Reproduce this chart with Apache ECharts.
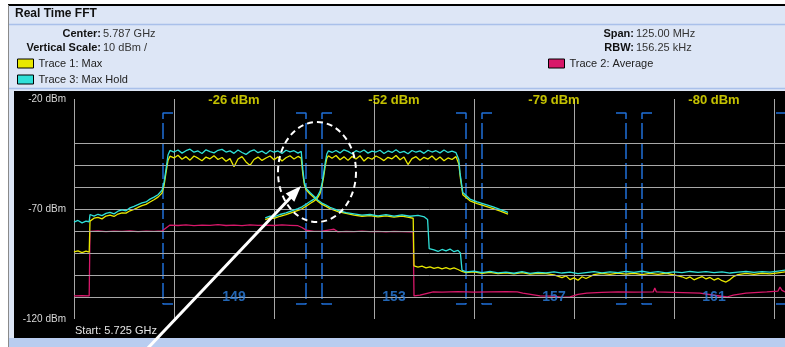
<!DOCTYPE html>
<html>
<head>
<meta charset="utf-8">
<script src="https://cdn.jsdelivr.net/npm/echarts@6/dist/echarts.min.js"></script>
<style>
  html, body { margin: 0; padding: 0; background: #fff; }
  #chart { width: 785px; height: 347px; }
</style>
</head>
<body>
<div id="chart"></div>
<script>
// x = MHz above start frequency (5.725 GHz), y = dBm
const spanVisible = 88.875; // only part of the 125 MHz span is on screen
const gridLevels = [-40, -50, -60, -70, -80, -90, -100, -110];

const channels = ["149", "153", "157", "161"];
const channelCenters = [20, 40, 60, 80];
const channelPower = [-26, -52, -79, -80];
const channelEdges = [[11.125, 29], [31, 49], [51, 69], [71, 89]];

// Trace 3: Max Hold (cyan)
const maxHoldA = [
  [0, -76], [0.5, -75.2], [1, -76.3], [1.5, -75.5], [1.9, -75.8], [2, -72.5], [2.5, -73.2], [3, -72.4],
  [3.5, -73], [4, -72], [4.5, -71.5], [5, -72.2], [5.5, -71], [6, -70.4], [6.5, -70.8], [7, -69.5],
  [7.5, -68.8], [8, -68], [8.5, -67.2], [9, -66.8], [9.5, -65.5], [10, -64.6], [10.5, -63.5], [11, -61.5],
  [11.25, -58], [11.5, -52], [11.75, -45.5], [12, -43.4],
  [12.5, -44.1], [13, -43.2], [13.5, -44.6], [14, -43.5], [14.5, -42.8], [15, -44.2], [15.5, -43.6],
  [16, -44.8], [16.5, -43.1], [17, -43.9], [17.5, -44.5], [18, -43.3], [18.5, -42.9], [19, -44.1],
  [19.5, -43.6], [20, -44.7], [20.5, -43.2], [21, -44.3], [21.5, -45.2], [22, -43.8], [22.5, -43.1],
  [23, -44.4], [23.5, -43.7], [24, -44.9], [24.5, -43.4], [25, -44.2], [25.5, -43.6], [26, -44.8],
  [26.5, -43.3], [27, -44], [27.5, -43.5], [28, -44.6], [28.4, -43.8],
  [28.6, -52], [28.8, -58], [29, -60.5], [29.5, -62.5], [30, -64.2], [30.5, -66], [31, -67.3],
  [31.5, -68.2], [32, -69.2], [33, -70.6], [34, -71.6], [35, -72.2], [36, -72.8], [37, -72.5],
  [38, -73.1], [39, -72.6], [40, -73.2], [41, -72.7], [42, -73.3], [43, -72.9], [43.8, -73.6],
  [44.2, -74.8], [44.4, -88], [45, -88.6], [45.5, -89.3], [46, -88.4], [46.5, -89], [47, -88.2],
  [47.5, -89.4], [48, -88.8], [48.3, -90], [48.5, -97.8],
  [49, -98.6], [50, -98.2], [51, -98.9], [52, -98.4], [53, -99], [54, -98.7], [55, -99.2], [56, -98.5],
  [57, -99.3], [58, -98.8], [59, -99], [60, -98.6], [61, -99.1], [62, -98.7], [63, -99.4], [64, -98.9],
  [65, -98.5], [66, -99], [67, -98.6], [68, -98.9], [69, -98.4], [70, -98.8], [71, -98.3], [72, -98.9],
  [73, -98.5], [74, -99], [75, -98.6], [76, -98.9], [77, -98.4], [78, -98.8], [79, -98.5], [80, -98.9],
  [81, -98.6], [82, -99.1], [83, -98.7], [84, -98.4], [85, -98.8], [86, -98.5], [87, -98.7], [88, -98.2],
  [88.875, -97.8]
];
const maxHoldB = [
  [23.9, -74], [24.5, -73.2], [25, -73.6], [25.75, -72.5], [26.5, -71.8], [27.4, -70.6], [28, -69.8],
  [28.5, -69], [29.1, -67.6], [29.6, -66.4], [30, -65.5], [30.4, -64.3], [30.75, -62], [31, -58.5],
  [31.2, -54], [31.4, -49], [31.6, -45], [31.8, -43.6],
  [32.25, -44.3], [32.75, -43.4], [33.25, -44.5], [33.75, -43.1], [34.25, -43.8], [34.75, -44.9],
  [35.25, -43.5], [35.75, -44.2], [36.25, -43.2], [36.75, -44.6], [37.25, -43.7], [37.75, -44.1],
  [38.25, -43.3], [38.75, -44.8], [39.25, -43.6], [39.75, -44.3], [40.25, -43.1], [40.75, -44.4],
  [41.25, -43.8], [41.75, -44.9], [42.25, -43.4], [42.75, -44.2], [43.25, -43.6], [43.75, -44.7],
  [44.25, -43.3], [44.75, -44.1], [45.25, -43.5], [45.75, -44.5], [46.25, -43.2], [46.75, -44.3],
  [47.25, -43.7], [47.75, -44.4],
  [48.1, -47.5], [48.25, -53.6], [48.6, -62.5], [49.5, -65.5], [50.4, -66.8], [51.5, -68],
  [52.4, -69], [53.3, -70.3], [54.25, -71.5]
];

// Trace 1: Max (yellow)
const maxA = [
  [0, -89.5], [0.5, -89], [1, -89.8], [1.5, -89.2], [1.9, -89.6], [2, -75.5], [2.5, -74.2], [3, -73.8],
  [3.5, -74.5], [4, -73.2], [4.5, -72.8], [5, -73.4], [5.5, -72.3], [6, -71.8], [6.5, -71.9], [7, -70.8],
  [7.5, -70.2], [8, -69.3], [8.5, -68.5], [9, -67.9], [9.5, -66.8], [10, -65.8], [10.5, -64.6], [11, -62.8],
  [11.25, -59.5], [11.5, -53.5], [11.75, -48], [12, -46],
  [12.5, -46.8], [13, -45.6], [13.5, -47.4], [14, -46.2], [14.5, -47.8], [15, -45.9], [15.5, -46.9],
  [16, -48.1], [16.5, -46.4], [17, -47.2], [17.5, -45.8], [18, -47.5], [18.5, -46.6], [19, -48.3],
  [19.5, -47.1], [20, -50.8], [20.5, -47.3], [21, -46.2], [21.5, -48.6], [22, -50.2], [22.5, -47.5],
  [23, -46.4], [23.5, -47.9], [24, -46.8], [24.5, -45.9], [25, -47.6], [25.5, -46.3], [26, -48.2],
  [26.5, -46.7], [27, -45.8], [27.5, -47.3], [28, -46.1], [28.4, -46.9],
  [28.6, -54], [28.8, -59], [29, -61.2], [29.5, -63.2], [30, -64.8], [30.5, -66.6], [31, -67.9],
  [31.5, -68.8], [32, -69.8], [33, -71.2], [34, -72], [35, -72.8], [36, -73.3], [37, -73], [38, -73.6],
  [39, -73.1], [40, -73.7], [41, -73.2], [42, -73.9], [42.4, -74.2], [42.5, -95.8], [43, -96.4],
  [43.5, -96], [44, -96.8], [44.5, -96.3], [45, -97], [45.5, -96.5], [46, -97.2], [46.5, -96.7],
  [47, -97.3], [47.5, -96.8], [48, -97.5], [48.5, -98.4], [49, -98.9],
  [50, -98.6], [51, -99.2], [52, -98.8], [53, -99.4], [54, -99], [55, -99.5], [56, -98.9], [57, -99.6],
  [58, -99.2], [59, -99.4], [60, -99.9], [61, -101.2], [61.5, -100.4], [62, -102.1], [62.5, -101.3],
  [63, -102.4], [63.5, -100.8], [64, -101.6], [65, -99.8], [66, -99.3], [67, -99.7], [68, -99.1],
  [69, -99.6], [70, -99.2], [71, -99.8], [72, -99.3], [73, -99.7], [74, -99.2], [75, -99.9],
  [76, -100.8], [76.5, -101.6], [77, -100.9], [77.5, -102.2], [78, -101.4], [78.5, -100.7],
  [79, -101.8], [79.5, -101.1], [80, -102.3], [80.5, -101.5], [81, -102.6], [81.5, -103.2],
  [82, -102.1], [82.5, -100.6], [83, -99.8], [84, -99.3], [85, -99.7], [86, -99.2], [87, -99.5],
  [88, -99], [88.875, -98.6]
];
const maxB = [
  [23.9, -74.8], [24.5, -74], [25, -74.3], [25.75, -73.3], [26.5, -72.6], [27.4, -71.4], [28, -70.6],
  [28.5, -69.9], [29.1, -68.5], [29.6, -67.3], [30, -66.4], [30.4, -65.2], [30.75, -63], [31, -59.5],
  [31.2, -55.5], [31.4, -50.5], [31.6, -47], [31.8, -45.8],
  [32.25, -46.9], [32.75, -45.7], [33.25, -47.6], [33.75, -46.3], [34.25, -47.9], [34.75, -46.1],
  [35.25, -47.3], [35.75, -45.8], [36.25, -48.2], [36.75, -46.6], [37.25, -47.4], [37.75, -45.9],
  [38.25, -46.8], [38.75, -48], [39.25, -46.5], [39.75, -47.2], [40.25, -45.7], [40.75, -47.6],
  [41.25, -46.4], [41.75, -49.8], [42.25, -47.1], [42.75, -46.2], [43.25, -47.8], [43.75, -46.5],
  [44.25, -47.3], [44.75, -45.9], [45.25, -47.7], [45.75, -46.4], [46.25, -48.1], [46.75, -46.8],
  [47.25, -47.5], [47.75, -46.2],
  [48.1, -49.5], [48.3, -56], [48.6, -63.5], [49.5, -66.3], [50.4, -67.6], [51.5, -68.8],
  [52.4, -69.8], [53.3, -71], [54.25, -72.3]
];

// Trace 2: Average (magenta)
const average = [
  [0, -109.5], [1, -109.4], [1.9, -109.5], [2, -80.2], [3, -80], [4, -80.3], [5, -80.1], [6, -80.2],
  [7, -80], [8, -80.3], [9, -80.1], [10, -80.2], [11, -80], [11.5, -78.6], [12, -77.3], [13, -77.5],
  [14, -77.2], [15, -77.6], [16, -77.3], [17, -77.4], [18, -77.1], [19, -77.5], [20, -77.3], [21, -77.6],
  [22, -77.2], [23, -77.4], [24, -77.3], [25, -77.5], [26, -77.2], [27, -77.4], [28, -77.6], [28.5, -78.4],
  [29, -79.6], [30, -80.2], [31, -80.1], [32, -79.5], [32.5, -79.2], [33, -80.4], [34, -80.2], [35, -80.3],
  [36, -80.1], [37, -80.3], [38, -80.2], [39, -80.4], [40, -80.2], [41, -80.3], [42, -80.4], [42.4, -80.3],
  [42.5, -109.5], [43.25, -109.1], [44.9, -107.7], [46, -107.8], [48, -107.6], [50, -107.8], [52, -107.7],
  [54, -107.6], [55.4, -107.7], [56.1, -108.2], [58.25, -109.5], [60, -109.6], [61, -110.2], [62, -109.9],
  [63, -108.8], [64.1, -108.2], [66, -107.9], [68, -107.7], [70, -107.8], [72.4, -107.7], [72.6, -105.9],
  [72.8, -107.7], [75, -107.9], [78.25, -108.2], [80, -109.2], [81.6, -110], [82.4, -109.1], [84, -108.2],
  [86.6, -107.7], [88, -107.3], [88.25, -105.5], [88.5, -107], [88.875, -107.7]
];

const FONT = '"Liberation Sans", Arial, sans-serif';
const bracketTop = -26.4;
const bracketBottom = -113.2;
const bracketFoot = 1.25;

const chart = echarts.init(document.getElementById("chart"));

// channel edge brackets, one polyline per edge
const bracketSeries = [];
channelEdges.forEach(([lo, hi]) => {
  [[lo, bracketFoot], [hi, -bracketFoot]].forEach(([x, d]) => {
    bracketSeries.push({
      type: "line",
      silent: true,
      symbol: "none",
      z: 1,
      lineStyle: { color: "#1f6fd8", width: 1.5, type: [16, 4] },
      data: [[x + d, bracketTop], [x, bracketTop], [x, bracketBottom], [x + d, bracketBottom]],
    });
  });
});

const traceLine = (name, color, data, z) => ({
  name,
  type: "line",
  data,
  symbol: "none",
  z,
  color,
  itemStyle: { color },
  lineStyle: { color, width: 1.3 },
});

const legendBase = {
  padding: 0,
  icon: "rect",
  itemWidth: 16,
  itemHeight: 9,
  itemStyle: { borderColor: "#000", borderWidth: 1 },
  textStyle: { color: "#222", fontSize: 11, fontFamily: FONT },
};

const option = {
  backgroundColor: "#ffffff",
  animation: false,
  grid: { left: 74, right: 0, top: 99, bottom: 28 },
  xAxis: {
    type: "value",
    min: 0,
    max: spanVisible,
    interval: 12.5,
    axisLine: { show: false },
    axisTick: { show: false },
    axisLabel: { show: false },
    splitLine: { show: true, lineStyle: { color: "#a8a8a8", width: 1 } },
  },
  yAxis: {
    type: "value",
    min: -120,
    max: -20,
    interval: 50,
    axisLine: { show: false },
    axisTick: { show: false },
    splitLine: { show: false },
    axisLabel: {
      formatter: "{value} dBm",
      color: "#d8d8d8",
      fontSize: 10,
      fontFamily: FONT,
      margin: 8,
    },
  },
  legend: [
    Object.assign({}, legendBase, {
      left: 17,
      top: 58,
      orient: "vertical",
      itemGap: 5,
      data: ["Trace 1: Max", "Trace 3: Max Hold"],
    }),
    Object.assign({}, legendBase, {
      left: 548,
      top: 58,
      data: ["Trace 2: Average"],
    }),
  ],
  graphic: [
    { type: "rect", z: -10, shape: { x: 8, y: 5, width: 777, height: 342 }, style: { fill: "#dde6f6" } },
    { type: "line", z: -9, shape: { x1: 8, y1: 5, x2: 785, y2: 5 }, style: { stroke: "#000", lineWidth: 2 } },
    { type: "line", z: -9, shape: { x1: 8.5, y1: 5, x2: 8.5, y2: 347 }, style: { stroke: "#8a8a8a", lineWidth: 1 } },
    { type: "line", z: -9, shape: { x1: 9, y1: 24.5, x2: 785, y2: 24.5 }, style: { stroke: "#a9c0ea", lineWidth: 1.5 } },
    { type: "line", z: -9, shape: { x1: 9, y1: 88.5, x2: 785, y2: 88.5 }, style: { stroke: "#a9c0ea", lineWidth: 1.5 } },
    { type: "rect", z: -9, shape: { x: 14, y: 91, width: 771, height: 247 }, style: { fill: "#000" } },
    { type: "rect", z: -9, shape: { x: 9, y: 338, width: 776, height: 9 }, style: { fill: "#b9cdf0" } },
    { type: "text", z: 5, style: { text: "Real Time FFT", x: 15, y: 14, fill: "#111", font: "bold 12px " + FONT, textVerticalAlign: "middle" } },
    { type: "text", z: 5, style: { text: "Center:", x: 101, y: 34, fill: "#111", font: "bold 11px " + FONT, textAlign: "right", textVerticalAlign: "middle" } },
    { type: "text", z: 5, style: { text: "5.787 GHz", x: 103, y: 34, fill: "#333", font: "11px " + FONT, textVerticalAlign: "middle" } },
    { type: "text", z: 5, style: { text: "Vertical Scale:", x: 101, y: 48, fill: "#111", font: "bold 11px " + FONT, textAlign: "right", textVerticalAlign: "middle" } },
    { type: "text", z: 5, style: { text: "10 dBm /", x: 103, y: 48, fill: "#333", font: "11px " + FONT, textVerticalAlign: "middle" } },
    { type: "text", z: 5, style: { text: "Span:", x: 634, y: 34, fill: "#111", font: "bold 11px " + FONT, textAlign: "right", textVerticalAlign: "middle" } },
    { type: "text", z: 5, style: { text: "125.00 MHz", x: 636, y: 34, fill: "#333", font: "11px " + FONT, textVerticalAlign: "middle" } },
    { type: "text", z: 5, style: { text: "RBW:", x: 634, y: 48, fill: "#111", font: "bold 11px " + FONT, textAlign: "right", textVerticalAlign: "middle" } },
    { type: "text", z: 5, style: { text: "156.25 kHz", x: 636, y: 48, fill: "#333", font: "11px " + FONT, textVerticalAlign: "middle" } },
    { type: "text", z: 5, style: { text: "Start: 5.725 GHz", x: 75, y: 331, fill: "#e4e4e4", font: "11px " + FONT, textVerticalAlign: "middle" } },
    // annotation: dashed ellipse and arrow
    { type: "ellipse", z: 100, shape: { cx: 317, cy: 172, rx: 39, ry: 50 }, style: { fill: null, stroke: "#fff", lineWidth: 2, lineDash: [6, 4] } },
    { type: "line", z: 100, shape: { x1: 147, y1: 349, x2: 292, y2: 196 }, style: { stroke: "#fff", lineWidth: 3 } },
    { type: "polygon", z: 100, shape: { points: [[301, 186], [294.3, 201.7], [285.7, 193.5]] }, style: { fill: "#fff" } },
  ],
  series: [
    {
      type: "line",
      silent: true,
      data: [],
      z: 1,
      markLine: {
        silent: true,
        symbol: ["none", "none"],
        label: { show: false },
        lineStyle: { color: "#a8a8a8", type: "solid", width: 1 },
        data: gridLevels.map((v) => ({ yAxis: v })),
      },
    },
    ...bracketSeries,
    traceLine("Trace 2: Average", "#d8186a", average, 3),
    traceLine("Trace 1: Max", "#e8e800", maxA, 4),
    traceLine("Trace 1: Max", "#e8e800", maxB, 4),
    traceLine("Trace 3: Max Hold", "#30e0d8", maxHoldA, 5),
    traceLine("Trace 3: Max Hold", "#30e0d8", maxHoldB, 5),
    {
      type: "scatter",
      silent: true,
      symbolSize: 0,
      z: 6,
      data: channelCenters.map((c, i) => [c, -20.5, channelPower[i]]),
      label: {
        show: true,
        position: "inside",
        formatter: (p) => p.value[2] + " dBm",
        color: "#f4f000",
        fontSize: 13,
        fontWeight: "bold",
        fontFamily: FONT,
      },
    },
    {
      type: "scatter",
      silent: true,
      symbolSize: 0,
      z: 6,
      data: channelCenters.map((c, i) => [c, -110, channels[i]]),
      label: {
        show: true,
        position: "inside",
        formatter: (p) => p.value[2],
        color: "#2a7ee0",
        fontSize: 14,
        fontWeight: "bold",
        fontFamily: FONT,
      },
    },
  ],
};

chart.setOption(option);
</script>
</body>
</html>
